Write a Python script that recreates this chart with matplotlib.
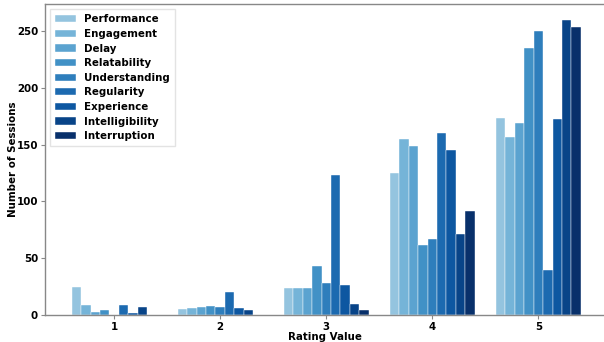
import matplotlib
matplotlib.use("Agg")
import matplotlib.pyplot as plt
import numpy as np

ratings = ["1", "2", "3", "4", "5"]
metrics = ["Performance", "Engagement", "Delay", "Relatability", "Understanding",
           "Regularity", "Experience", "Intelligibility", "Interruption"]

performance = [25, 5, 24, 125, 174]
engagement = [9, 6, 24, 155, 157]
delay = [3, 7, 24, 149, 169]
relatability = [4, 8, 43, 62, 235]
understanding = [0, 7, 28, 67, 250]
regularity = [9, 20, 123, 160, 40]
experience = [2, 6, 26, 145, 173]
intelligibility = [7, 4, 10, 71, 260]
interruption = [0, 0, 4, 92, 254]

series = [performance, engagement, delay, relatability, understanding,
          regularity, experience, intelligibility, interruption]

plt.rcParams['font.family'] = ['DejaVu Sans']
plt.rcParams['font.weight'] = 'bold'

fig = plt.figure(figsize=(6.04, 3.42), dpi=100)
ax = fig.add_axes([45/604, 1-315/342, 1-45/604 + 0.002, (315-4)/342])

colors = plt.cm.Blues(np.linspace(0.4, 1.0, len(metrics)))
x = np.arange(1, len(ratings) + 1)
n = len(metrics)
w = 0.8 / n
for i, (name, vals) in enumerate(zip(metrics, series)):
    ax.bar(x - 0.4 + w * (i + 0.5), vals, width=w, color=colors[i],
           edgecolor='white', linewidth=0.3, label=name)

fs = 7.4
ax.set_xticks(x)
ax.set_xticklabels(ratings, fontsize=fs, fontweight='bold')
ax.set_yticks([0, 50, 100, 150, 200, 250])
ax.set_yticklabels(["0", "50", "100", "150", "200", "250"], fontsize=fs, fontweight='bold')
ax.set_xlim(0.348, 5.63)
ax.set_ylim(0, 274)
ax.set_xlabel("Rating Value", fontsize=fs, fontweight='bold', labelpad=0)
ax.set_ylabel("Number of Sessions", fontsize=fs, fontweight='bold', labelpad=-1)
for s in ax.spines.values():
    s.set_color('#888888')
    s.set_linewidth(1.0)
ax.tick_params(colors='black', length=3, width=0.8, pad=2)
ax.tick_params(axis='both', color='#888888')

leg = ax.legend(loc='upper left', prop={'size': fs, 'weight': 'bold'},
                frameon=True, handlelength=2.0, labelspacing=0.45,
                borderpad=0.5, fancybox=False)
leg.get_frame().set_edgecolor('#dddddd')

fig.savefig("out.png", dpi=100)
